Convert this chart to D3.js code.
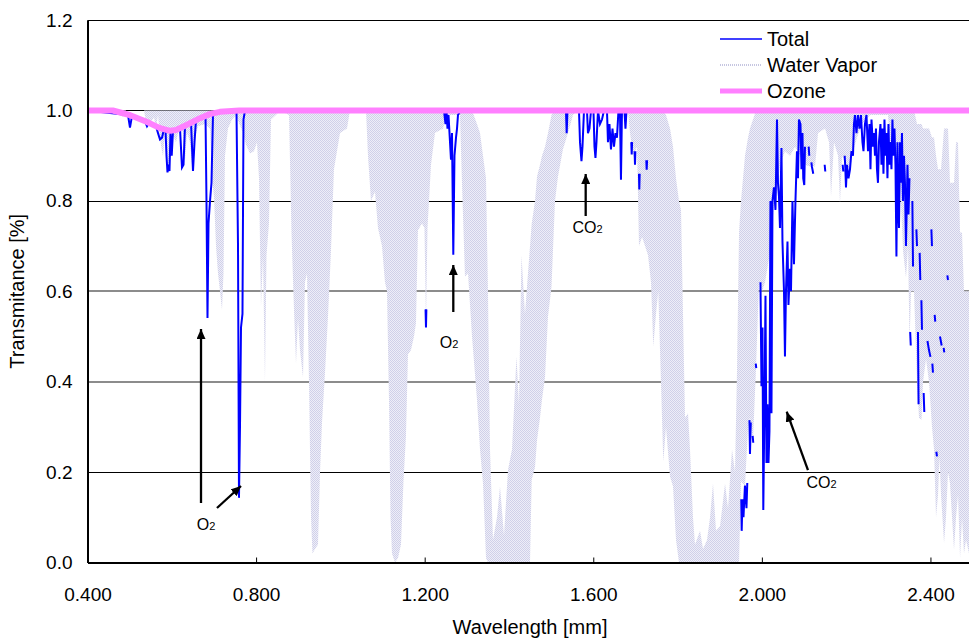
<!DOCTYPE html>
<html>
<head>
<meta charset="utf-8">
<script src="https://d3js.org/d3.v7.min.js"></script>
<style>
body { margin:0; background:#fff; }
svg { display:block; font-family:"Liberation Sans", Arial, sans-serif; }
</style>
</head>
<body>
<svg id="chart" width="969" height="639"></svg>
<script>

// water vapor transmittance band: [wavelength, lower edge, upper edge]
var waterVapor = [
  [0.4000,1,1],[0.4771,1,1],[0.4842,.985,1],[0.4913,1,1],[0.5340,1,1],[0.5388,.975,1],[0.5435,.965,1],
  [0.5507,.975,1],[0.5578,.985,1],[0.5625,.96,1],[0.5673,.99,1],[0.5732,.93,1],[0.5791,.898,1],
  [0.5839,.95,1],[0.5922,.869,1],[0.5981,.92,1],[0.6028,.945,1],[0.6100,.93,1],[0.6195,.97,1],
  [0.6266,.95,1],[0.6313,.89,1],[0.6361,.95,1],[0.6432,.93,1],[0.6491,.869,1],[0.6551,.94,1],
  [0.6622,.965,1],[0.6788,.97,1],[0.6907,.96,1],[0.6954,.85,1],[0.7001,.81,1],[0.7049,.70,1],
  [0.7096,.64,1],[0.7144,.60,1],[0.7191,.559,1],[0.7227,.64,1],[0.7262,.90,1],[0.7333,.96,1],
  [0.7428,.98,1],[0.7523,.99,1],[0.7689,.95,1],[0.7760,.925,1],[0.7856,.905,1],[0.7950,.91,1],
  [0.8021,.93,1],[0.8069,.85,1],[0.8116,.566,1],[0.8164,.677,1],[0.8211,.40,1],[0.8247,.68,1],
  [0.8306,.75,1],[0.8354,.98,1],[0.8472,.99,1],[0.8568,1,1],[0.8781,.99,1],[0.8840,.73,1],
  [0.8899,.56,1],[0.8947,.44,1],[0.8994,.54,1],[0.9042,.47,1],[0.9113,.41,1],[0.9160,.62,1],
  [0.9208,.64,1],[0.9255,.40,1],[0.9303,.10,1],[0.9338,.02,1],[0.9398,.03,1],[0.9469,.04,1],
  [0.9517,.20,1],[0.9564,.31,1],[0.9635,.42,1],[0.9706,.544,1],[0.9777,.69,1],[0.9848,.87,1],
  [0.9991,.95,1],[1.0157,.96,1],[1.0228,1,1],[1.0608,1,1],[1.0655,.90,1],[1.0726,.80,1],
  [1.0821,.82,1],[1.0892,.74,1],[1.0987,.70,1],[1.1058,.62,1],[1.1106,.60,1],[1.1153,.36,1],
  [1.1189,.10,1],[1.1224,.02,1],[1.1296,0,1],[1.1367,.01,1],[1.1438,.04,1],[1.1497,.18,1],
  [1.1556,.28,1],[1.1604,.46,1],[1.1675,.47,1],[1.1746,.50,1],[1.1794,.53,1],[1.1841,.735,1],
  [1.1936,.75,1],[1.1995,.74,1],[1.2031,.53,1],[1.2067,.74,1],[1.2150,.88,1],[1.2245,.95,1],
  [1.2435,.96,1],[1.2506,.99,1],[1.2838,.99,1],[1.2885,.84,1],[1.2956,.633,1],[1.3028,.64,1],
  [1.3123,.50,1],[1.3241,.36,.97],[1.3313,.25,.95],[1.3384,.175,.90],[1.3455,.01,.85],
  [1.3502,0,.60],[1.3550,0,.25],[1.3621,0,.05],[1.3716,0,.10],[1.3787,0,.168],[1.3882,0,.06],
  [1.3977,0,.205],[1.4072,0,.25],[1.4178,0,.456],[1.4237,0,.35],[1.4297,0,.68],[1.4380,0,.55],
  [1.4451,0,.64],[1.4499,0,.70],[1.4539,.183,.75],[1.4617,.21,.80],[1.4665,.27,.854],
  [1.4736,.32,.88],[1.4783,.36,.90],[1.4855,.41,.92],[1.4926,.544,.95],[1.5009,.61,.99],
  [1.5092,.80,1],[1.5163,.854,1],[1.5281,.914,1],[1.5400,.95,1],[1.5519,.99,1],[1.5637,1,1],
  [1.6824,1,1],[1.6872,.95,1],[1.6943,.90,1],[1.7038,.92,1],[1.7085,.70,1],[1.7157,.72,1],
  [1.7228,.70,1],[1.7299,.68,1],[1.7370,.62,1],[1.7424,.478,1],[1.7488,.55,1],[1.7542,.60,1],
  [1.7606,.40,1],[1.7661,.223,1],[1.7725,.30,.99],[1.7821,.19,.96],[1.7892,.168,.92],
  [1.7963,.05,.85],[1.8034,0,.80],[1.8082,0,.78],[1.8129,0,.55],[1.8177,0,.32],[1.8248,0,.33],
  [1.8295,0,.25],[1.8366,0,.10],[1.8414,0,.04],[1.8533,0,.07],[1.8604,0,.03],[1.8699,0,.05],
  [1.8770,0,.10],[1.8841,0,.175],[1.8912,0,.07],[1.9007,0,.08],[1.9126,0,.175],[1.9197,0,.12],
  [1.9292,0,.25],[1.9363,0,.20],[1.9411,0,.43],[1.9458,0,.73],[1.9505,.18,.80],[1.9600,.17,.90],
  [1.9672,.30,.94],[1.9719,.32,.96],[1.9790,.27,.98],[1.9861,.43,1],[1.9932,.62,1],[2.0004,.60,1],
  [2.0075,.62,1],[2.0146,.66,1],[2.0217,.70,1],[2.0288,.80,1],[2.0359,.82,1],[2.0431,.88,1],
  [2.0549,.91,1],[2.0668,.90,1],[2.0787,.92,1],[2.0905,.90,1],[2.1024,.88,1],[2.1143,.876,1],
  [2.1261,.876,1],[2.1333,.95,1],[2.1499,.96,1],[2.1594,.93,1],[2.1641,.81,1],[2.1712,.93,1],
  [2.1807,.90,1],[2.1854,.795,1],[2.1902,.90,1],[2.1997,.88,1],[2.2092,.87,1],[2.2163,.91,1],
  [2.2258,.94,1],[2.2376,.97,1],[2.2566,.99,1],[2.2993,.99,1],[2.3064,.90,1],[2.3159,.92,1],
  [2.3230,.80,1],[2.3278,.85,1],[2.3349,.69,1],[2.3420,.63,1],[2.3468,.70,1],[2.3504,.485,1],
  [2.3539,.60,1],[2.3610,.60,1],[2.3682,.40,.97],[2.3729,.32,.97],[2.3788,.316,.97],
  [2.3824,.40,.96],[2.3895,.45,.96],[2.3966,.40,.96],[2.4037,.30,.94],[2.4085,.25,.94],
  [2.4132,.10,.90],[2.4180,.15,.87],[2.4215,.234,.87],[2.4251,.15,.87],[2.4322,.043,.96],
  [2.4369,.10,.96],[2.4417,.20,.96],[2.4464,.175,.84],[2.4512,.10,.84],[2.4559,.028,.84],
  [2.4607,.10,.93],[2.4654,.15,.93],[2.4702,.01,.73],[2.4749,.10,.73],[2.4796,.02,.60],
  [2.4844,.05,.60],[2.4915,.02,.60],[2.5000,.02,.60]
];

// total transmittance where it shows apart from water vapor: [wavelength, value], null = hidden
var total = [
  [0.4000,1],[0.4961,.99],[0.5008,.962],[0.5056,.988],
  [0.5364,.976],[0.5412,.965],[0.5459,.972],
  [0.5625,.965],[0.5673,.95],[0.5720,.936],[0.5768,.94],[0.5815,.959],
  [0.5851,.958],[0.5874,.90],[0.5898,.863],[0.5922,.88],[0.5945,.866],[0.5969,.95],[0.5998,.90],[0.6028,.955],
  [0.6195,.96],[0.6242,.874],[0.6278,.88],[0.6313,.966],
  [0.6456,.974],[0.6503,.866],[0.6539,.93],[0.6574,.979],
  [0.6800,.988],[0.6823,.80],[0.6847,.541],[0.6871,.75],[0.6907,.80],[0.6942,.84],[0.6978,.993],
  [0.7535,.999],[0.7571,.70],[0.7594,.143],[0.7618,.30],[0.7642,.52],[0.7677,.55],[0.7701,.98],[0.7737,1],
  [1.1995,1],[1.2000,null],[1.2021,.56],[1.2031,.52],[1.2040,.56],[1.2055,null],
  [1.2458,1],[1.2494,.97],[1.2518,1],[1.2541,.96],[1.2565,.99],[1.2601,.93],[1.2624,.891],[1.2648,.95],
  [1.2679,.681],[1.2707,.90],[1.2743,.94],[1.2767,.96],[1.2790,.99],[1.2861,1],
  [1.5352,1],[1.5369,.95],[1.5388,1],
  [1.5661,1],[1.5685,.93],[1.5720,.888],[1.5744,.92],[1.5780,1],
  [1.5851,1],[1.5874,.95],[1.5910,.96],[1.5946,1],
  [1.6005,1],[1.6029,.92],[1.6052,.895],[1.6076,.93],[1.6112,1],
  [1.6159,.97],[1.6207,.98],[1.6254,1],
  [1.6325,1],[1.6349,.93],[1.6384,.97],[1.6420,.914],[1.6456,.96],[1.6491,.92],[1.6527,.95],[1.6562,.94],[1.6598,1],
  [1.6633,1],[1.6657,.847],[1.6681,1],
  [1.6740,1],[1.6764,.96],[1.6788,1],
  [1.6871,1],[1.6890,null],
  [1.6902,.93],[1.6912,.903],[1.6921,.93],[1.6950,null],
  [1.6980,.91],[1.6990,.88],[1.6999,.91],[1.7040,null],
  [1.7084,.86],[1.7092,.825],[1.7101,.86],[1.7200,null],
  [1.7258,.89],[1.7267,.869],[1.7277,.89],[1.7300,null],
  [1.9511,.14],[1.9521,.07],[1.9540,.14],[1.9564,.10],[1.9599,.17],[1.9635,.12],[1.9654,.176],[1.9680,null],
  [1.9706,.315],[1.9718,.24],[1.9737,.31],[1.9760,null],
  [1.9782,.28],[1.9796,.265],[1.9820,null],
  [1.9855,.44],[1.9867,.43],[1.9900,null],
  [1.9967,.62],[1.9991,.39],[2.0015,.52],[2.0034,.116],[2.0062,.35],[2.0086,.59],[2.0109,.22],[2.0133,.35],
  [2.0157,.22],[2.0180,.29],[2.0204,.80],[2.0228,.33],[2.0252,.80],[2.0287,.83],[2.0323,.78],[2.0359,.98],
  [2.0382,.84],[2.0406,.81],[2.0430,.74],[2.0465,.917],[2.0489,.71],[2.0525,.60],[2.0548,.456],[2.0572,.60],
  [2.0608,.71],[2.0631,.57],[2.0667,.65],[2.0691,.60],[2.0726,.80],[2.0762,.66],[2.0797,.80],[2.0833,.91],
  [2.0857,.85],[2.0880,.98],[2.0916,.97],[2.0940,.87],[2.0963,.95],[2.0982,.85],[2.1006,.835],[2.1023,.92],[2.1060,null],
  [2.1111,.92],[2.1125,.90],[2.1150,null],
  [2.1175,.885],[2.1189,.875],[2.1220,.86],[2.1300,null],
  [2.1490,.88],[2.1505,.865],[2.1600,null],
  [2.1918,.88],[2.1932,.865],[2.1950,null],
  [2.1965,.90],[2.1979,.875],[2.1996,.83],[2.2020,.88],[2.2055,.85],[2.2091,.87],[2.2126,.91],[2.2162,.90],
  [2.2185,.97],[2.2209,.99],[2.2245,.95],[2.2280,.99],[2.2316,.96],[2.2351,.99],[2.2387,.93],[2.2411,.91],
  [2.2446,.97],[2.2482,.99],[2.2518,.91],[2.2553,.97],[2.2577,.87],[2.2601,.98],[2.2636,.92],[2.2660,.95],
  [2.2684,.90],[2.2707,.96],[2.2731,.87],[2.2755,.84],[2.2778,.93],[2.2814,.97],[2.2838,.88],[2.2861,.96],
  [2.2885,.86],[2.2909,.98],[2.2932,.90],[2.2956,.95],[2.2980,.85],[2.3004,.97],[2.3027,.88],[2.3051,.93],
  [2.3075,.87],[2.3098,.98],[2.3122,.90],[2.3146,.96],[2.3170,.88],[2.3193,.677],[2.3217,.93],[2.3236,.78],
  [2.3253,.74],[2.3277,.93],[2.3300,.84],[2.3324,.95],[2.3348,.80],[2.3372,.90],[2.3395,.84],[2.3419,.70],
  [2.3436,.78],[2.3455,.88],[2.3479,.77],[2.3502,.85],[2.3510,null],
  [2.3519,.51],[2.3533,.48],[2.3550,null],
  [2.3571,.80],[2.3586,.655],[2.3600,null],
  [2.3666,.737],[2.3681,.70],[2.3690,null],
  [2.3704,.51],[2.3718,.35],[2.3730,null],
  [2.3744,.685],[2.3759,.625],[2.3770,null],
  [2.3785,.58],[2.3799,.515],[2.3810,null],
  [2.3839,.375],[2.3854,.333],[2.3870,null],
  [2.3929,.49],[2.3965,.47],[2.4000,.455],[2.4010,null],
  [2.4022,.737],[2.4036,.70],[2.4040,null],
  [2.4045,.44],[2.4060,.42],[2.4080,null],
  [2.4100,.548],[2.4114,.533],[2.4125,null],
  [2.4140,.245],[2.4155,.235],[2.4180,null],
  [2.4226,.50],[2.4266,.48],[2.4290,null],
  [2.4314,.475],[2.4328,.465],[2.4360,null],
  [2.4401,.635],[2.4416,.625]
];

// ozone transmittance: [wavelength, value]
var ozone = [
  [0.40,1],[0.46,1],[0.50,.99],[0.54,.975],[0.572,.961],[0.596,.955],[0.61,.957],
  [0.635,.968],[0.667,.983],[0.69,.992],[0.714,.997],[0.76,1],[2.5,1]
];

var xTicks = [0.4, 0.8, 1.2, 1.6, 2.0, 2.4];
var yTicks = [0, 0.2, 0.4, 0.6, 0.8, 1.0, 1.2];
var seriesNames = ["Total", "Water Vapor", "Ozone"];

// annotation arrows [from x, from y, to x, to y] and labels, in data units
var arrows = [
  [0.6693, 0.1316, 0.6693, 0.5166],
  [0.7072, 0.1206, 0.7642, 0.1692],
  [1.2679, 0.5542, 1.2679, 0.6582],
  [1.5820, 0.7666, 1.5820, 0.8595],
  [2.1094, 0.2046, 2.0589, 0.3336]
];
var labels = [
  ["O", "2", 0.6811, 0.0719],
  ["O", "2", 1.2577, 0.4746],
  ["CO", "2", 1.5863, 0.729],
  ["CO", "2", 2.1414, 0.1648]
];

var svg = d3.select("#chart");

var x = d3.scaleLinear().domain([0.4, 2.5]).range([87.5, 972.6]),
    y = d3.scaleLinear().domain([0, 1.2]).range([562.5, 20.1]);

var defs = svg.append("defs");

defs.append("clipPath").attr("id", "plotClip")
  .append("rect")
    .attr("x", x(0.4)).attr("y", y(1.2))
    .attr("width", x(2.5) - x(0.4)).attr("height", y(0) - y(1.2));

var hatch = defs.append("pattern")
    .attr("id", "wvHatch")
    .attr("patternUnits", "userSpaceOnUse")
    .attr("width", 2).attr("height", 2);
hatch.append("rect").attr("width", 2).attr("height", 2).attr("fill", "#eeeef8");
hatch.append("rect").attr("width", 1).attr("height", 1).attr("fill", "#d0d0e9");
hatch.append("rect").attr("x", 1).attr("y", 1).attr("width", 1).attr("height", 1).attr("fill", "#d0d0e9");

defs.append("marker")
    .attr("id", "head")
    .attr("markerUnits", "userSpaceOnUse")
    .attr("viewBox", "0 0 10 9")
    .attr("refX", 10).attr("refY", 4.5)
    .attr("markerWidth", 10).attr("markerHeight", 9)
    .attr("orient", "auto")
  .append("path")
    .attr("d", "M0,0L10,4.5L0,9Z")
    .attr("fill", "#000");

// gridlines
svg.append("g")
  .selectAll("line")
  .data(yTicks.filter(function(d) { return d > 0; }))
  .enter().append("line")
    .attr("x1", x(0.4)).attr("x2", x(2.5))
    .attr("y1", function(d) { return (d == 0.4 || d == 0.6) ? Math.round(y(d)) : Math.round(y(d)) + 0.5; })
    .attr("y2", function(d) { return (d == 0.4 || d == 0.6) ? Math.round(y(d)) : Math.round(y(d)) + 0.5; })
    .attr("stroke", function(d) { return (d == 0.4 || d == 0.6) ? "#8c8c8c" : "#000"; })
    .attr("stroke-width", function(d) { return (d == 0.4 || d == 0.6) ? 2 : 1; });

var plot = svg.append("g").attr("clip-path", "url(#plotClip)");

var wvArea = d3.area()
    .x(function(d) { return x(d[0]); })
    .y0(function(d) { return y(d[1]); })
    .y1(function(d) { return y(d[2]); });

plot.append("path")
    .datum(waterVapor)
    .attr("d", wvArea)
    .attr("fill", "url(#wvHatch)");

var totalLine = d3.line()
    .defined(function(d) { return d[1] !== null; })
    .x(function(d) { return x(d[0]); })
    .y(function(d) { return y(d[1]); });

plot.append("path")
    .datum(total)
    .attr("d", totalLine)
    .attr("fill", "none")
    .attr("stroke", "#0000ff")
    .attr("stroke-width", 2);

var ozoneLine = d3.line()
    .x(function(d) { return x(d[0]); })
    .y(function(d) { return y(d[1]); });

plot.append("path")
    .datum(ozone)
    .attr("d", ozoneLine)
    .attr("fill", "none")
    .attr("stroke", "#ff80ff")
    .attr("stroke-width", 6)
    .attr("stroke-linejoin", "round");

// axes
var xAxis = svg.append("g")
    .attr("transform", "translate(0," + y(0) + ")")
    .call(d3.axisBottom(x).tickValues(xTicks).tickFormat(d3.format(".3f"))
      .tickSize(-5).tickSizeOuter(0).tickPadding(25));
xAxis.select(".domain").attr("stroke-width", 2);
xAxis.selectAll("text").attr("font-size", "19px").attr("font-family", "Liberation Sans, Arial, sans-serif").attr("fill", "#000");

var yAxis = svg.append("g")
    .attr("transform", "translate(" + x(0.4) + ",0)")
    .call(d3.axisLeft(y).tickValues(yTicks).tickFormat(d3.format(".1f"))
      .tickSize(0).tickPadding(15));
yAxis.select(".domain").attr("stroke-width", 2);
yAxis.selectAll("text").attr("font-size", "19px").attr("font-family", "Liberation Sans, Arial, sans-serif").attr("fill", "#000");

svg.append("text")
    .attr("x", (x(0.4) + x(2.5)) / 2)
    .attr("y", 634)
    .attr("text-anchor", "middle")
    .attr("font-size", "20px")
    .text("Wavelength [mm]");

svg.append("text")
    .attr("transform", "translate(24," + ((y(0) + y(1.2)) / 2) + ") rotate(-90)")
    .attr("text-anchor", "middle")
    .attr("font-size", "20px")
    .text("Transmitance [%]");

// annotations
svg.append("g")
  .selectAll("line")
  .data(arrows)
  .enter().append("line")
    .attr("x1", function(d) { return x(d[0]); })
    .attr("y1", function(d) { return y(d[1]); })
    .attr("x2", function(d) { return x(d[2]); })
    .attr("y2", function(d) { return y(d[3]); })
    .attr("stroke", "#000")
    .attr("stroke-width", 2.3)
    .attr("marker-end", "url(#head)");

var lab = svg.append("g")
  .selectAll("text")
  .data(labels)
  .enter().append("text")
    .attr("x", function(d) { return x(d[2]); })
    .attr("y", function(d) { return y(d[3]); })
    .attr("text-anchor", "middle")
    .attr("font-size", "16px");
lab.append("tspan").text(function(d) { return d[0]; });
lab.append("tspan").attr("font-size", "11px").text(function(d) { return d[1]; });

// legend
var legend = svg.append("g")
  .selectAll("g")
  .data(seriesNames)
  .enter().append("g")
    .attr("transform", function(d, i) { return "translate(720," + (39 + i * 26) + ")"; });

legend.append("line")
    .attr("x1", 0).attr("x2", 42)
    .attr("stroke", function(d, i) { return ["#0000ff", "#b4b4d8", "#ff80ff"][i]; })
    .attr("stroke-width", function(d, i) { return [1.5, 1.5, 5][i]; })
    .attr("stroke-dasharray", function(d, i) { return i == 1 ? "1,1" : null; });

legend.append("text")
    .attr("x", 47)
    .attr("y", 7)
    .attr("font-size", "20px")
    .text(function(d) { return d; });

</script>
</body>
</html>
